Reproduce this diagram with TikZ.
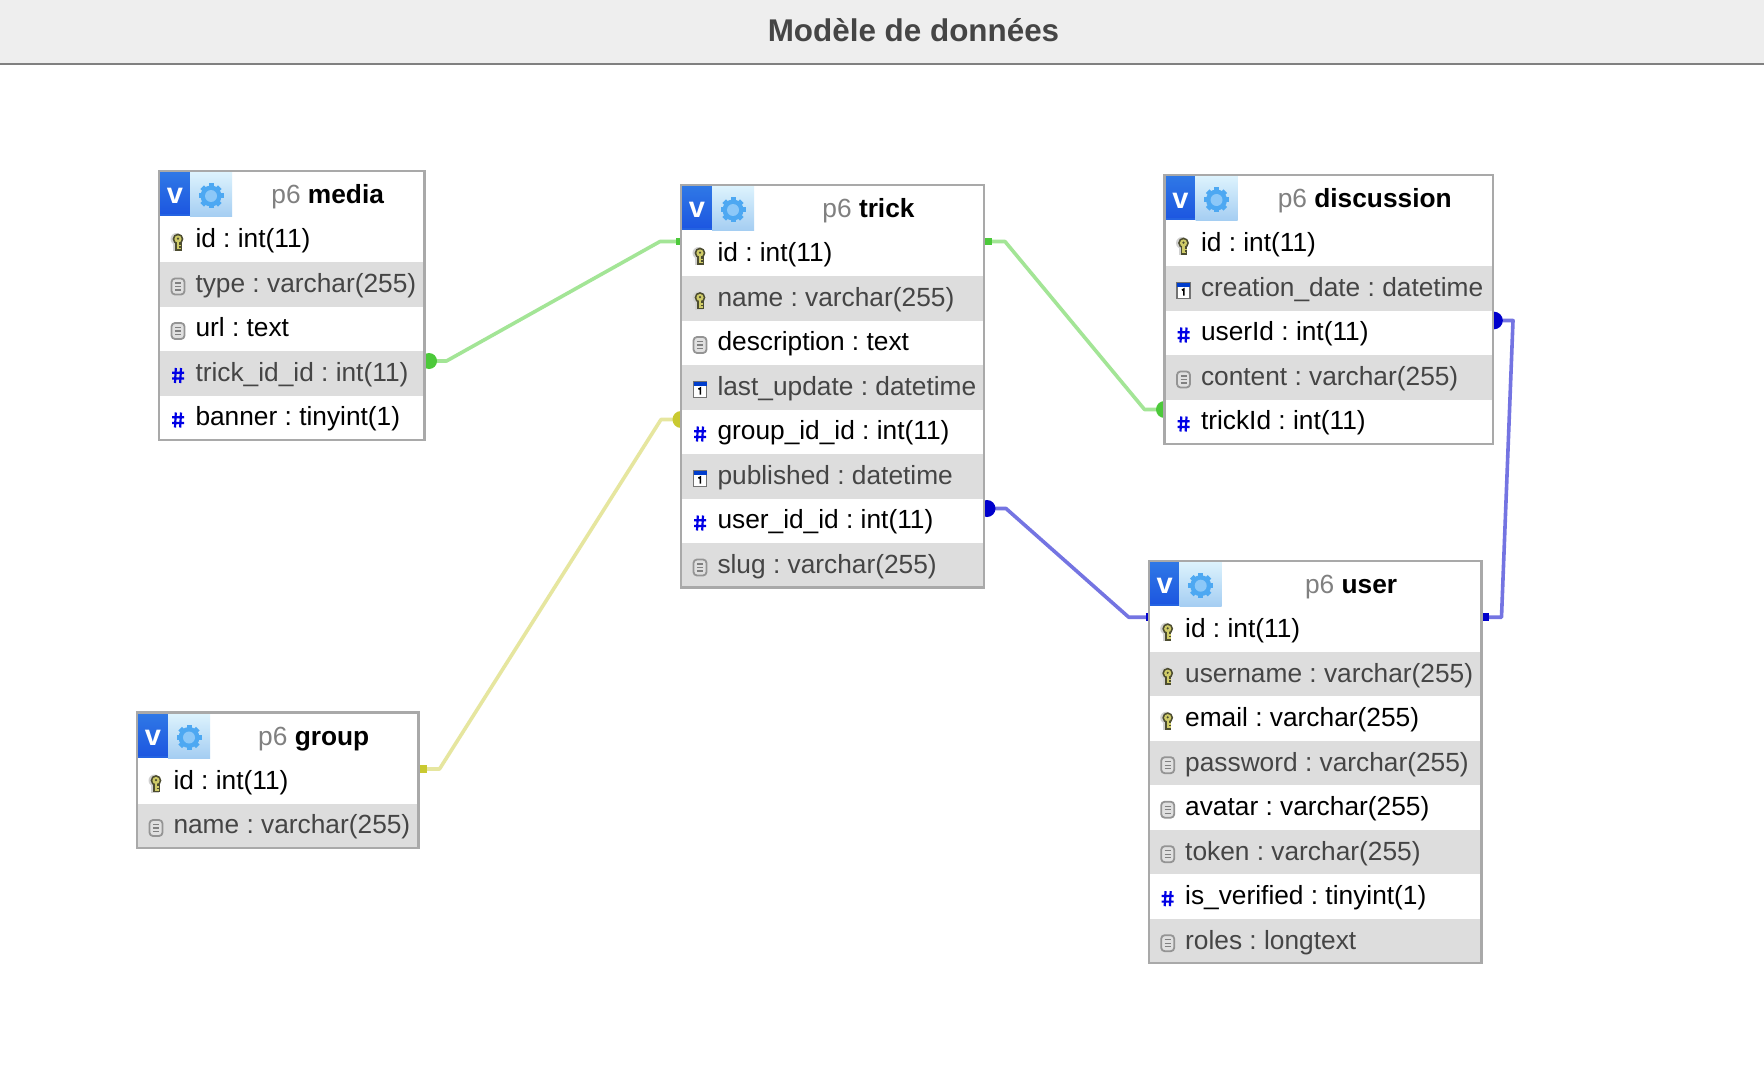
\documentclass[tikz,border=0pt]{standalone}
\usepackage{fontspec}
\setmainfont{Liberation Sans}
\usetikzlibrary{calc,backgrounds}
\frenchspacing
\definecolor{bordc}{HTML}{A9A9A9}
\definecolor{zebra}{HTML}{DDDDDD}
\definecolor{grn}{HTML}{4CC93A}
\definecolor{grnl}{HTML}{A3E596}
\definecolor{yel}{HTML}{C9C930}
\definecolor{yell}{HTML}{E6E69F}
\definecolor{blu}{HTML}{0000CC}
\definecolor{blul}{HTML}{7474E2}
\definecolor{keyd}{HTML}{4C4C30}
\definecolor{keyy}{HTML}{CFCB68}
\definecolor{gearc}{HTML}{4DA8F2}
\definecolor{gearh}{HTML}{8CC8F8}
\definecolor{vtop}{HTML}{2F78E6}
\definecolor{vbot}{HTML}{1C55E0}
\definecolor{ltop}{HTML}{DDF3FD}
\definecolor{lbot}{HTML}{A4CDF2}
\tikzset{
  x=1pt,y=-1pt,
  tablebox/.style={draw=bordc,line width=2.2pt,fill=none,inner sep=0pt,outer sep=0pt,anchor=north west},
  tableback/.style={fill=white,inner sep=0pt,outer sep=0pt,anchor=north west},
  rowbox/.style={inner sep=0pt,outer sep=0pt,anchor=north west,minimum height=44.5pt},
  rowtext/.style={inner sep=0pt,anchor=base west,font=\fontsize{26.3}{30}\selectfont},
  headtext/.style={inner sep=0pt,anchor=base,font=\fontsize{26.3}{30}\selectfont},
  conn/.style={line width=3.6pt,line join=round},
  key/.pic={
    \fill[black!18] (-1.5,-3) circle (6);
    \fill[black!18] (-5,-1) rectangle (3,9);
    \fill[keyd] (0,-3) circle (5.4);
    \fill[keyd] (-3,-1) rectangle (3.6,8.8);
    \fill[keyy] (0,-3) circle (3.6);
    \fill[keyd] (0,-3.4) circle (1.2);
    \fill[keyy] (-1.2,0) rectangle (1.2,7.2);
    \fill[keyy] (1.2,2.6) rectangle (3,4);
    \fill[keyy] (1.2,5.6) rectangle (2.8,7.2);
  },
  doc/.pic={
    \draw[draw=black!42,fill=black!12,line width=1.8pt,rounded corners=3.5pt] (-6.5,-8) rectangle (6.5,8);
    \draw[black!50,line width=1.3pt] (-3,-3.5) -- (3,-3.5) (-3,0) -- (3,0) (-3,3.5) -- (3,3.5);
  },
  hashicon/.pic={
    \draw[blue!90!black,line width=2.2pt] (-2.2,-7.5) -- (-3,7.5) (3,-7.5) -- (2.2,7.5)
      (-6,-2.7) -- (6,-2.7) (-6,2.9) -- (6,2.9);
  },
  calicon/.pic={
    \draw[draw=black!55,fill=white,line width=1.4pt] (-6.5,-8) rectangle (6.5,8);
    \fill[blue!70!cyan!80!black] (-6.5,-8) rectangle (6.5,-3.5);
    \draw[black,line width=1.6pt] (-1.6,-0.3) -- (0.3,-1.4) -- (0.3,5);
  },
  gear/.pic={
    \foreach \a in {0,45,...,315}{
      \draw[line width=5pt,color=gearc] (0,0) -- (\a:12.5);
    }
    \fill[gearc] (0,0) circle (10.5);
    \fill[gearh] (0,0) circle (6);
  },
}
% #1 name, #2 x, #3 y, #4 width, #5 title, #6 rows (icon/text)
\newcommand{\dbtable}[6]{%
  \foreach \ic/\tx [count=\rr] in {#6}{\global\let\lastrr\rr}%
  \pgfmathsetmacro{\tabh}{46.5+44.5*\lastrr}%
  \node[tableback,minimum width=#4pt,minimum height=\tabh pt] (#1-bg) at (#2,#3) {};
  \foreach \ic/\tx [count=\rr] in {#6}{%
    \pgfmathsetmacro{\ry}{#3+46.5+44.5*(\rr-1)}%
    \pgfmathtruncatemacro{\isev}{mod(\rr,2)==0 ? 1 : 0}%
    \ifnum\isev=1 \def\rowc{zebra}\def\txc{black!73}\else\def\rowc{white}\def\txc{black}\fi
    \node[rowbox,fill=\rowc,minimum width=#4pt] (#1-\rr) at (#2,\ry) {};
    \coordinate (#1-\rr-L) at ([yshift=-10pt]#1-\rr.north west);
    \coordinate (#1-\rr-R) at ([yshift=-10pt]#1-\rr.north east);
    \pic at ($(#2,\ry)+(19,24.5)$) {\ic};
    \node[rowtext,text=\txc] (#1-\rr-t) at ($(#2,\ry)+(36.3,30.3)$) {\tx};
  }
  % header icons
  \shade[top color=vtop,bottom color=vbot] (#2+1,#3+1) rectangle (#2+31,#3+45);
  \fill[vbot!60!vtop] (#2+1,#3+43) rectangle (#2+31,#3+45);
  \shade[top color=ltop,bottom color=lbot] (#2+31,#3+1) rectangle (#2+73,#3+46);
  \node[inner sep=0pt,anchor=base,text=white,font=\bfseries\fontsize{29}{30}\selectfont] (#1-v) at (#2+16,#3+33) {v};
  \pic at (#2+52,#3+25) {gear};
  \node[headtext] (#1-title) at ($(#2+72,#3+32.5)!0.5!(#2+#4,#3+32.5)$) {\textcolor{black!50}{p6} \textbf{#5}};
  \node[tablebox,minimum width=#4pt,minimum height=\tabh pt] (#1) at (#2,#3) {};
}
\begin{document}
\begin{tikzpicture}
\useasboundingbox (0,0) rectangle (1764,1086);
\dbtable{media}{159}{171}{265.5}{media}{key/{id : int(11)},doc/{type : varchar(255)},doc/{url : text},hashicon/{trick\_id\_id : int(11)},hashicon/{banner : tinyint(1)}}
\dbtable{trick}{681}{185}{303}{trick}{key/{id : int(11)},key/{name : varchar(255)},doc/{description : text},calicon/{last\_update : datetime},hashicon/{group\_id\_id : int(11)},calicon/{published : datetime},hashicon/{user\_id\_id : int(11)},doc/{slug : varchar(255)}}
\dbtable{discussion}{1164.5}{175}{328.5}{discussion}{key/{id : int(11)},calicon/{creation\_date : datetime},hashicon/{userId : int(11)},doc/{content : varchar(255)},hashicon/{trickId : int(11)}}
\dbtable{user}{1148.7}{560.7}{332.8}{user}{key/{id : int(11)},key/{username : varchar(255)},key/{email : varchar(255)},doc/{password : varchar(255)},doc/{avatar : varchar(255)},doc/{token : varchar(255)},hashicon/{is\_verified : tinyint(1)},doc/{roles : longtext}}
\dbtable{group}{137}{712.5}{281.5}{group}{key/{id : int(11)},doc/{name : varchar(255)}}

\node[inner sep=0pt,anchor=base,text=black!73,font=\bfseries\fontsize{31.4}{34}\selectfont] (heading) at (913.5,41.8) {Modèle de données};

\begin{scope}[on background layer]
\fill[white] (0,0) rectangle (1764,1086);
\node[fill=black!6.5,minimum width=1764pt,minimum height=64.5pt,inner sep=0pt,outer sep=0pt,anchor=north west] (band) at (0,0) {};
\draw[black!50,line width=2pt] (band.south west) -- (band.south east);

\draw[conn,grnl] (media-4-R) -- ++(22,0) -- ($(trick-1-L)+(-21,0)$) -- (trick-1-L);
\draw[conn,grnl] (trick-1-R) -- ++(21,0) -- ($(discussion-5-L)+(-20,0)$) -- (discussion-5-L);
\draw[conn,yell] (group-1-R) -- ++(21,0) -- ($(trick-5-L)+(-20,0)$) -- (trick-5-L);
\draw[conn,blul] (trick-7-R) -- ++(22,0) -- ($(user-1-L)+(-20,0)$) -- (user-1-L);
\draw[conn,blul] (discussion-3-R) -- ++(20,0) -- ($(user-1-R)+(20,0)$) -- (user-1-R);

\fill[grn] ($(media-4-R)+(4.5,0)$) circle (8);
\fill[grn] ($(trick-1-L)+(-5,-3.5)$) rectangle ($(trick-1-L)+(0,3.5)$);
\fill[grn] ($(trick-1-R)+(0,-3.5)$) rectangle ($(trick-1-R)+(8,3.5)$);
\fill[grn] (discussion-5-L) circle (8.5);
\fill[yel] (trick-5-L) circle (8.5);
\fill[yel] ($(group-1-R)+(0,-4)$) rectangle ($(group-1-R)+(8,4)$);
\fill[blu] ($(trick-7-R)+(3,0)$) circle (8.5);
\fill[blu] ($(user-1-L)+(-3,-4)$) rectangle ($(user-1-L)+(0,4)$);
\fill[blu] ($(discussion-3-R)+(1,0)$) circle (8.8);
\fill[blu] ($(user-1-R)+(0,-4)$) rectangle ($(user-1-R)+(7,4)$);
\end{scope}
\end{tikzpicture}
\end{document}
